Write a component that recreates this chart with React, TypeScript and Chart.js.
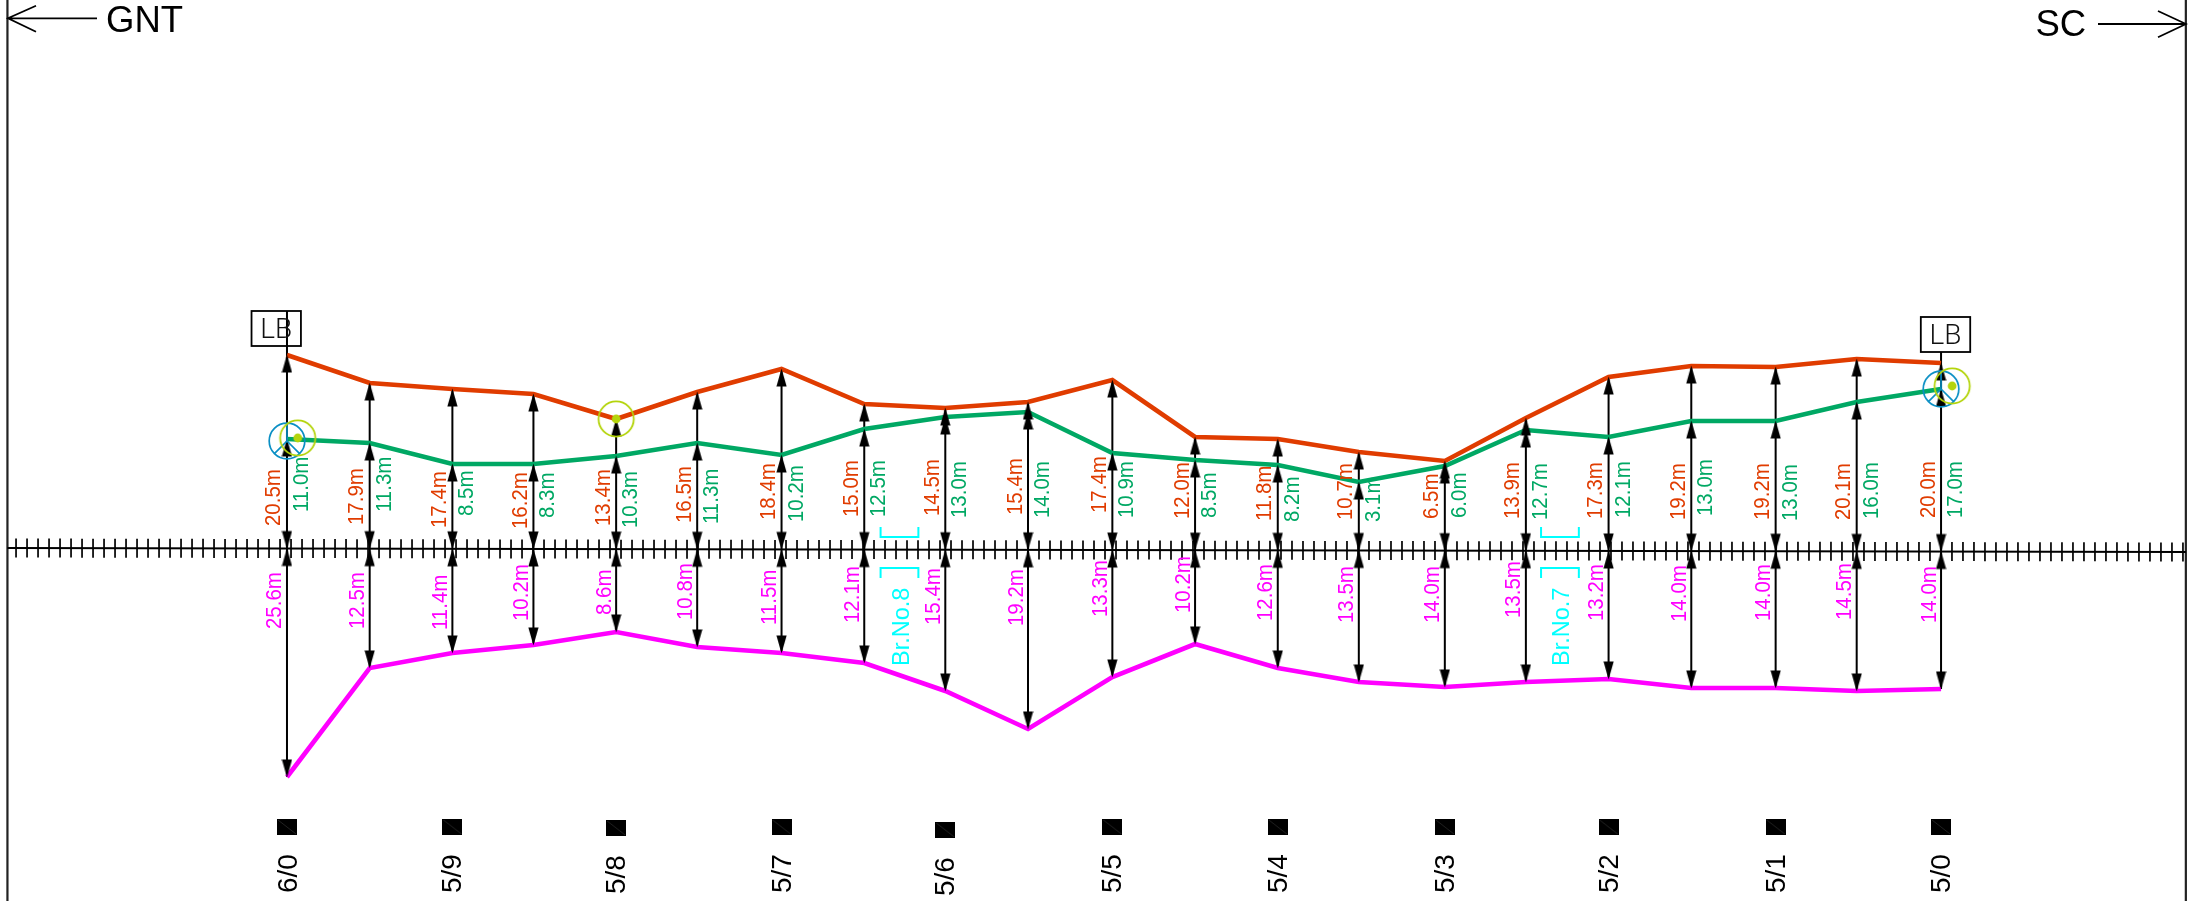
import React, { useEffect, useRef } from "react";
import { Chart, registerables } from "chart.js";

Chart.register(...registerables);

// ---- data ----
const chainageKm = [6.0, 5.95, 5.9, 5.851, 5.801, 5.752, 5.701, 5.651, 5.602, 5.552, 5.501, 5.451, 5.401, 5.352, 5.3, 5.251, 5.201, 5.151, 5.1, 5.051, 5.0];

const redProfile = [19.3, 16.5, 15.9, 15.4, 12.9, 15.6, 17.9, 14.4, 14.0, 14.6, 16.8, 11.1, 10.9, 9.6, 8.7, 13.0, 17.1, 18.2, 18.1, 18.9, 18.5];
const greenProfile = [10.9, 10.5, 8.4, 8.4, 9.2, 10.5, 9.3, 11.9, 13.1, 13.6, 9.5, 8.8, 8.3, 6.6, 8.2, 11.8, 11.1, 12.7, 12.7, 14.6, 15.9];
const magentaProfile = [-22.9, -12.0, -10.5, -9.7, -8.4, -9.9, -10.5, -11.5, -14.3, -18.1, -12.9, -9.6, -12.0, -13.4, -13.9, -13.4, -13.1, -14.0, -14.0, -14.3, -14.1];

const redLabels = ["20.5m", "17.9m", "17.4m", "16.2m", "13.4m", "16.5m", "18.4m", "15.0m", "14.5m", "15.4m", "17.4m", "12.0m", "11.8m", "10.7m", "6.5m", "13.9m", "17.3m", "19.2m", "19.2m", "20.1m", "20.0m"];
const greenLabels = ["11.0m", "11.3m", "8.5m", "8.3m", "10.3m", "11.3m", "10.2m", "12.5m", "13.0m", "14.0m", "10.9m", "8.5m", "8.2m", "3.1m", "6.0m", "12.7m", "12.1m", "13.0m", "13.0m", "16.0m", "17.0m"];
const magentaLabels = ["25.6m", "12.5m", "11.4m", "10.2m", "8.6m", "10.8m", "11.5m", "12.1m", "15.4m", "19.2m", "13.3m", "10.2m", "12.6m", "13.5m", "14.0m", "13.5m", "13.2m", "14.0m", "14.0m", "14.5m", "14.0m"];

const stationLabels = ["6/0", "5/9", "5/8", "5/7", "5/6", "5/5", "5/4", "5/3", "5/2", "5/1", "5/0"];
const stationKm = [6.0, 5.9, 5.801, 5.701, 5.602, 5.501, 5.401, 5.3, 5.201, 5.1, 5.0];
const stationLevel = [-27.9, -27.9, -28.0, -27.9, -28.2, -27.9, -27.9, -27.9, -27.9, -27.9, -27.9];

const blueKm = [6.0, 5.0];
const blueLevel = [10.7, 15.9];
const limeKm = [5.9935, 5.801, 4.9933];
const limeLevel = [11.0, 12.9, 16.2];

const trackKm = [6.169, 4.852];
const trackLevel = [0.0, -0.4];

const lbText = ["LB", "LB"];
const lbKm = [6.0065, 4.9973];
const lbTop = [23.7, 23.1];
const lbBottom = [20.2, 19.6];
const lbLeaderKm = [6.0, 5.0];

const bridgeNames = ["Br.No.8", "Br.No.7"];
const bridgeKm = [5.6297, 5.2304];

// ---- layout ----
const W = 2188;
const H = 901;
const KM_MIN = 4.8507;
const KM_MAX = 6.1735;
const Y_MIN = -35.3;
const Y_MAX = 54.8;
const SLEEPER_START = 6.1638;
const SLEEPER_STEP = 0.00665;
const SLEEPER_COUNT = 198;

// where each rotated label begins, in the same vertical units as the chart
const redLabelBase = [2.2, 2.3, 2.0, 1.9, 2.2, 2.5, 2.8, 3.1, 3.2, 3.3, 3.5, 2.9, 2.7, 2.8, 2.9, 2.9, 2.9, 2.8, 2.8, 2.8, 3.0];
const greenLabelBase = [3.6, 3.6, 3.2, 3.0, 2.0, 2.4, 2.6, 3.1, 3.0, 3.0, 3.0, 3.0, 2.6, 2.6, 3.0, 2.8, 3.0, 3.2, 2.7, 2.9, 3.0];
const magentaLabelBase = [-8.1, -8.1, -8.2, -7.3, -6.7, -7.2, -7.7, -7.5, -7.7, -7.8, -6.9, -6.5, -7.3, -7.5, -7.5, -7.0, -7.3, -7.4, -7.3, -7.2, -7.5];

const RED = "#E03C00";
const GREEN = "#00A864";
const MAGENTA = "#FF00FF";
const CYAN = "#00FFFF";
const LIME = "#B4D40C";
const BLUE = "#0A8FC4";
const FONT = '"Liberation Sans", Arial, sans-serif';

function trackAt(km: number) {
  const t = (km - trackKm[0]) / (trackKm[1] - trackKm[0]);
  return trackLevel[0] + t * (trackLevel[1] - trackLevel[0]);
}

function glyph(w: number, h: number, draw: (c: CanvasRenderingContext2D) => void) {
  const cv = document.createElement("canvas");
  cv.width = w;
  cv.height = h;
  draw(cv.getContext("2d") as CanvasRenderingContext2D);
  return cv;
}

function upright(ctx: CanvasRenderingContext2D, text: string, x: number, y: number, font: string, color: string, squeeze = 1) {
  ctx.save();
  ctx.translate(x, y);
  ctx.rotate(-Math.PI / 2);
  ctx.scale(squeeze, 1);
  ctx.font = font;
  ctx.fillStyle = color;
  ctx.textAlign = "left";
  ctx.textBaseline = "alphabetic";
  ctx.fillText(text, 0, 0);
  ctx.restore();
}

const drawingPlugin = {
  id: "drawing",
  beforeDatasetsDraw(chart: any) {
    const ctx = chart.ctx as CanvasRenderingContext2D;
    const sx = chart.scales.x;
    const sy = chart.scales.y;
    ctx.save();
    ctx.strokeStyle = "#000";
    ctx.lineWidth = 1.7;
    for (let k = 0; k < SLEEPER_COUNT; k++) {
      const km = SLEEPER_START - k * SLEEPER_STEP;
      const px = sx.getPixelForValue(km);
      const py = sy.getPixelForValue(trackAt(km));
      ctx.beginPath();
      ctx.moveTo(px, py - 9.5);
      ctx.lineTo(px, py + 9.5);
      ctx.stroke();
    }
    ctx.restore();
  },
  afterDatasetsDraw(chart: any) {
    const ctx = chart.ctx as CanvasRenderingContext2D;
    const sx = chart.scales.x;
    const sy = chart.scales.y;
    const X = (v: number) => sx.getPixelForValue(v);
    const Y = (v: number) => sy.getPixelForValue(v);
    const small = `21.5px ${FONT}`;

    chainageKm.forEach((km, i) => {
      upright(ctx, redLabels[i], X(km) - 6.5, Y(redLabelBase[i]), small, RED, 0.95);
      upright(ctx, greenLabels[i], X(km) + 21, Y(greenLabelBase[i]), small, GREEN, 0.95);
      upright(ctx, magentaLabels[i], X(km) - 5.5, Y(magentaLabelBase[i]), small, MAGENTA, 0.95);
    });

    stationLabels.forEach((s, i) => {
      upright(ctx, s, X(stationKm[i]) + (i === 0 ? 10 : 9), Y(stationLevel[i]) + 66, `28px ${FONT}`, "#000");
    });

    // LB boxes
    lbText.forEach((s, i) => {
      const cx = X(lbKm[i]);
      const top = Y(lbTop[i]);
      const bottom = Y(lbBottom[i]);
      ctx.save();
      ctx.strokeStyle = "#000";
      ctx.lineWidth = 1.8;
      ctx.strokeRect(cx - 24.7, top, 49.4, bottom - top);
      ctx.fillStyle = "#111";
      ctx.font = `300 28px Roboto, ${FONT}`;
      ctx.textAlign = "center";
      ctx.textBaseline = "alphabetic";
      ctx.fillText(s, cx, bottom - 8);
      ctx.restore();
    });

    // bridges
    bridgeNames.forEach((s, i) => {
      const cx = X(bridgeKm[i]);
      const half = 18.9;
      ctx.save();
      ctx.strokeStyle = CYAN;
      ctx.lineWidth = 2;
      ctx.beginPath();
      ctx.moveTo(cx - half, Y(2.1));
      ctx.lineTo(cx - half, Y(1.1));
      ctx.lineTo(cx + half, Y(1.1));
      ctx.lineTo(cx + half, Y(2.1));
      ctx.moveTo(cx - half, Y(-3.0));
      ctx.lineTo(cx - half, Y(-2.0));
      ctx.lineTo(cx + half, Y(-2.0));
      ctx.lineTo(cx + half, Y(-3.0));
      ctx.stroke();
      ctx.restore();
      upright(ctx, s, cx + 9.5, Y(-11.8), `23.5px ${FONT}`, CYAN);
    });

    // direction arrows, in page layout
    ctx.save();
    ctx.strokeStyle = "#000";
    ctx.lineWidth = 1.8;
    ctx.beginPath();
    ctx.moveTo(97, 18.3);
    ctx.lineTo(8, 18.3);
    ctx.moveTo(36, 5.7);
    ctx.lineTo(8, 18.3);
    ctx.lineTo(36, 31.7);
    ctx.moveTo(2098, 24);
    ctx.lineTo(2186, 24);
    ctx.moveTo(2158, 11);
    ctx.lineTo(2186, 24);
    ctx.lineTo(2158, 37.3);
    ctx.stroke();
    ctx.fillStyle = "#000";
    ctx.font = `36.5px ${FONT}`;
    ctx.textAlign = "left";
    ctx.textBaseline = "alphabetic";
    ctx.fillText("GNT", 106, 32);
    ctx.fillText("SC", 2035.5, 36);
    ctx.restore();
  },
};

export default function App() {
  const ref = useRef<HTMLCanvasElement | null>(null);

  useEffect(() => {
    document.body.style.margin = "0";
    document.body.style.background = "#fff";
    const canvas = ref.current as HTMLCanvasElement;

    const arrowUp = glyph(11, 38, (c) => {
      c.fillStyle = "#000";
      c.beginPath();
      c.moveTo(5.5, 18.5);
      c.lineTo(10.6, 36.5);
      c.lineTo(0.4, 36.5);
      c.closePath();
      c.fill();
    });
    const arrowDown = glyph(11, 38, (c) => {
      c.fillStyle = "#000";
      c.beginPath();
      c.moveTo(5.5, 19.5);
      c.lineTo(10.6, 1.5);
      c.lineTo(0.4, 1.5);
      c.closePath();
      c.fill();
    });
    const marker = glyph(20, 16, (c) => {
      c.fillStyle = "#000";
      c.fillRect(0, 0, 20, 16);
      c.strokeStyle = "#555";
      c.lineWidth = 0.4;
      c.beginPath();
      c.moveTo(1, 1);
      c.lineTo(19, 15);
      c.stroke();
    });
    const blueSymbol = glyph(40, 40, (c) => {
      c.strokeStyle = BLUE;
      c.lineWidth = 1.7;
      c.beginPath();
      c.arc(20, 20, 17.8, 0, Math.PI * 2);
      c.moveTo(20, 2.2);
      c.lineTo(20, 20);
      c.lineTo(7.4, 32.6);
      c.moveTo(20, 20);
      c.lineTo(32.6, 32.6);
      c.stroke();
    });
    const limeSymbol = glyph(40, 40, (c) => {
      c.strokeStyle = LIME;
      c.lineWidth = 1.8;
      c.beginPath();
      c.arc(20, 20, 17.6, 0, Math.PI * 2);
      c.stroke();
      c.fillStyle = LIME;
      c.beginPath();
      c.arc(20, 20, 4.4, 0, Math.PI * 2);
      c.fill();
    });

    const series = (values: number[]) => chainageKm.map((km, i) => ({ x: km, y: values[i] }));

    const leaders: any[] = [];
    chainageKm.forEach((km, i) => {
      leaders.push({ x: km, y: redProfile[i] }, { x: km, y: magentaProfile[i] }, { x: km, y: null });
    });
    lbLeaderKm.forEach((km, i) => {
      const top = i === 0 ? lbTop[i] : lbBottom[i];
      leaders.push({ x: km, y: top }, { x: km, y: i === 0 ? redProfile[0] : redProfile[20] }, { x: km, y: null });
    });

    const frame = [
      { x: trackKm[0], y: Y_MAX },
      { x: trackKm[0], y: Y_MIN },
      { x: trackKm[0], y: null },
      { x: trackKm[1], y: Y_MAX },
      { x: trackKm[1], y: Y_MIN },
    ];

    const upTips = [
      ...series(redProfile),
      ...series(greenProfile),
      ...chainageKm.map((km) => ({ x: km, y: trackAt(km) })),
    ];
    const downTips = [
      ...series(magentaProfile),
      ...chainageKm.map((km) => ({ x: km, y: trackAt(km) })),
    ];

    const profile = (label: string, values: number[], color: string, order: number) => ({
      label,
      data: series(values),
      borderColor: color,
      borderWidth: 4.6,
      borderJoinStyle: "miter",
      borderCapStyle: "butt",
      pointRadius: 0,
      tension: 0,
      order,
    });
    const glyphs = (label: string, data: any[], style: HTMLCanvasElement, order: number) => ({
      label,
      data,
      showLine: false,
      pointStyle: style,
      pointRadius: 2,
      pointBorderWidth: 0,
      order,
    });

    const chart = new Chart(canvas, {
      type: "line",
      data: {
        datasets: [
          glyphs("lime", limeKm.map((x, i) => ({ x, y: limeLevel[i] })), limeSymbol, 1),
          glyphs("blue", blueKm.map((x, i) => ({ x, y: blueLevel[i] })), blueSymbol, 2),
          glyphs("stations", stationKm.map((x, i) => ({ x, y: stationLevel[i] })), marker, 3),
          glyphs("arrows up", upTips, arrowUp, 4),
          glyphs("arrows down", downTips, arrowDown, 5),
          profile("magenta", magentaProfile, MAGENTA, 6),
          profile("green", greenProfile, GREEN, 7),
          profile("red", redProfile, RED, 8),
          { label: "leaders", data: leaders, borderColor: "#000", borderWidth: 2, pointRadius: 0, spanGaps: false, order: 9 },
          {
            label: "track",
            data: trackKm.map((x, i) => ({ x, y: trackLevel[i] })),
            borderColor: "#000",
            borderWidth: 2.2,
            pointRadius: 0,
            order: 10,
          },
          { label: "frame", data: frame, borderColor: "#222", borderWidth: 2.2, pointRadius: 0, spanGaps: false, order: 11 },
        ] as any,
      },
      options: {
        animation: false,
        responsive: false,
        devicePixelRatio: 1,
        events: [],
        layout: { padding: 0, autoPadding: false },
        plugins: { legend: { display: false }, title: { display: false }, tooltip: { enabled: false } },
        scales: {
          x: { type: "linear", reverse: true, min: KM_MIN, max: KM_MAX, display: false },
          y: { type: "linear", min: Y_MIN, max: Y_MAX, display: false },
        },
      } as any,
      plugins: [drawingPlugin],
    });
    return () => chart.destroy();
  }, []);

  return (
    <div style={{ position: "absolute", left: 0, top: 0, width: W, height: H, overflow: "hidden" }}>
      <canvas ref={ref} width={W} height={H} style={{ display: "block", width: W, height: H }} />
    </div>
  );
}
